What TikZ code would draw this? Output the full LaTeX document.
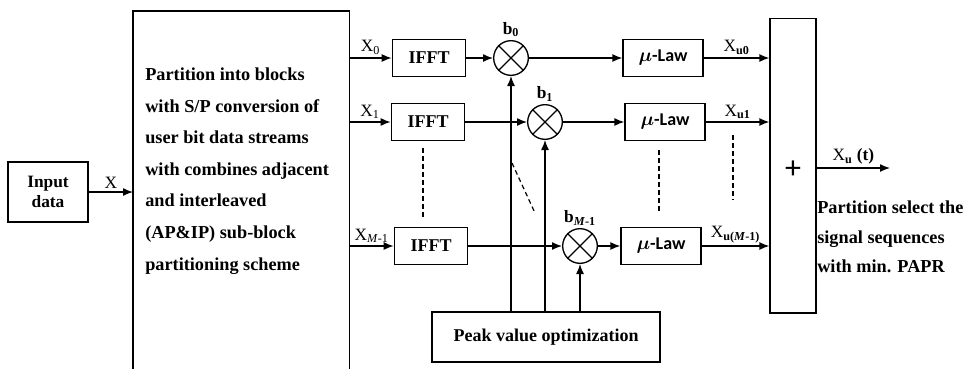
\documentclass[tikz,border=0pt]{standalone}
\usepackage{fontspec}
\setmainfont{Liberation Serif}
\newfontfamily\lawfont{Carlito}
\usetikzlibrary{arrows.meta}

\newcommand{\lawtxt}{{\boldmath$\mu$}{\lawfont -Law}}

\tikzset{
  blk/.style={draw, line width=1pt, inner sep=0pt, font=\fontsize{13.5}{16}\selectfont\bfseries},
  mulnode/.style={draw, circle, line width=1pt, minimum size=26pt, inner sep=0pt},
  arr/.style={line width=1pt, -{Latex[length=7.5pt,width=6pt]}},
  sig/.style={font=\fontsize{13}{15}\selectfont, inner sep=2pt},
  dots/.style={line width=0.9pt, dash pattern=on 3.5pt off 2.5pt}
}

\begin{document}
\begin{tikzpicture}[x=0.75pt,y=-0.75pt]
        \useasboundingbox (0,0) rectangle (966,369);

        % input and partition
        \node[blk, minimum width=60pt, minimum height=45pt, align=center, font=\fontsize{13}{15}\selectfont\bfseries] (inp) at (48,192) {Input\\data};
        \node[minimum width=162pt, minimum height=267.75pt, anchor=north west, inner sep=0pt] (part) at (133,11) {};
        \draw[line width=1pt] (part.south west) |- (part.north east) -- (part.south east);
        \node[anchor=west, align=left, inner sep=0pt, font=\fontsize{13.7}{23.7}\selectfont\bfseries] (parttxt) at (145,171) {Partition into blocks\\with S/P conversion of\\user bit data streams\\with combines adjacent\\and interleaved\\(AP\&IP) sub-block\\partitioning scheme};

        % IFFT blocks
        \node[blk, minimum width=55pt, minimum height=28pt] (ifft0) at (429,58) {IFFT};
        \node[blk, minimum width=55pt, minimum height=28pt] (ifft1) at (428,122) {IFFT};
        \node[blk, minimum width=55pt, minimum height=28pt] (ifftM) at (431,246) {IFFT};

        % multipliers
        \node[mulnode, label={[sig, font=\fontsize{13}{15}\selectfont\bfseries]above:b\textsubscript{0}}] (mul0) at (511,58) {};
        \node[mulnode, label={[sig, font=\fontsize{13}{15}\selectfont\bfseries]above:b\textsubscript{1}}] (mul1) at (545,122) {};
        \node[mulnode, label={[sig, font=\fontsize{13}{15}\selectfont\bfseries]above:b\textsubscript{\textit{M}-1}}] (mulM) at (580,246) {};
        \foreach \m in {mul0,mul1,mulM}
            \draw[line width=1pt] (\m.north west) -- (\m.south east) (\m.north east) -- (\m.south west);

        % mu-law blocks
        \node[blk, minimum width=60pt, minimum height=28pt] (law0) at (663,58) {\lawtxt};
        \node[blk, minimum width=60pt, minimum height=28pt] (law1) at (665,122) {\lawtxt};
        \node[blk, minimum width=60pt, minimum height=28pt] (lawM) at (661,246) {\lawtxt};

        % peak value and sum
        \node[blk, minimum width=171pt, minimum height=37.5pt] (peak) at (546,337) {Peak value optimization};
        \node[draw, line width=1pt, minimum width=34.5pt, minimum height=221pt] (sum) at (793,165.5) {};
        \node[font=\lawfont\fontsize{24}{24}\selectfont] (plus) at (793,170) {+};
        \coordinate (xout) at (890,168);
        \node[anchor=west, align=left, inner sep=0pt, font=\fontsize{13.7}{22}\selectfont\bfseries] (seltxt) at (817,237) {Partition select the\\signal sequences\\with min. PAPR};

        % connectors
        \draw[arr] (inp.east) -- (inp.east -| part.west) node[sig, midway, above] {X};
        \draw[arr] (ifft0.west -| part.east) -- (ifft0.west) node[sig, midway, above] {X\textsubscript{0}};
        \draw[arr] (ifft1.west -| part.east) -- (ifft1.west) node[sig, midway, above] {X\textsubscript{1}};
        \draw[arr] (ifftM.west -| part.east) -- (ifftM.west) node[sig, midway, above] {X\textsubscript{\textit{M}-1}};

        \draw[arr] (ifft0.east) -- (mul0.west);
        \draw[arr] (ifft1.east) -- (mul1.west);
        \draw[arr] (ifftM.east) -- (mulM.west);

        \draw[arr] (mul0.east) -- (law0.west);
        \draw[arr] (mul1.east) -- (law1.west);
        \draw[arr] (mulM.east) -- (lawM.west);

        \draw[arr] (law0.east) -- (law0.east -| sum.west) node[sig, midway, above] {X\textsubscript{\textbf{u0}}};
        \draw[arr] (law1.east) -- (law1.east -| sum.west) node[sig, midway, above] {X\textsubscript{\textbf{u1}}};
        \draw[arr] (lawM.east) -- (lawM.east -| sum.west) node[sig, midway, above] {X\textsubscript{\textbf{u(\textit{M}-1)}}};

        \draw[arr] (peak.north -| mul0) -- (mul0.south);
        \draw[arr] (peak.north -| mul1) -- (mul1.south);
        \draw[arr] (peak.north -| mulM) -- (mulM.south);

        \draw[arr] (sum.east |- xout) -- (xout) node[sig, midway, above] {X\textsubscript{\textbf{u}} \textbf{(t)}};

        % dotted continuation
        \draw[dots] (423,148) -- (423,218);
        \draw[dots] (512,163) -- (535,213);
        \draw[dots] (659,150) -- (659,213);
        \draw[dots] (733,135) -- (733,200);
\end{tikzpicture}
\end{document}
